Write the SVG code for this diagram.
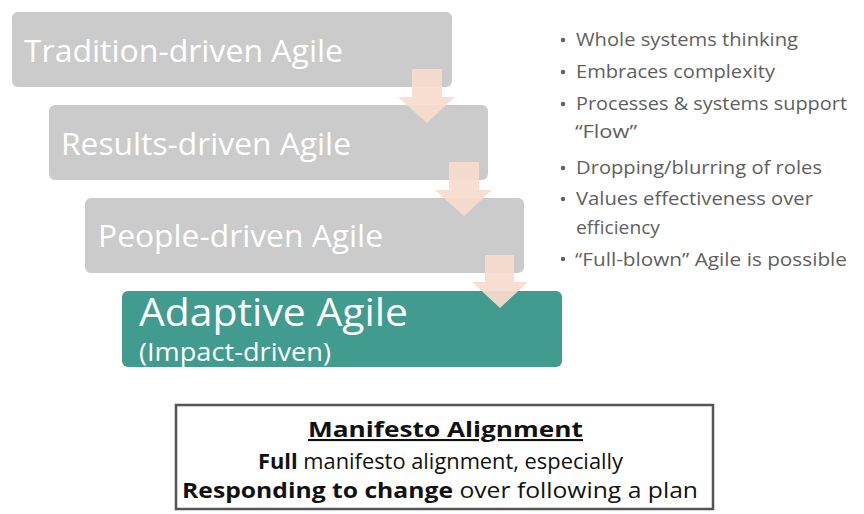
<svg xmlns="http://www.w3.org/2000/svg" width="864" height="514" viewBox="0 0 864 514">
<style>
.box{fill:#cbcbcb}
.teal{fill:#419b8f}
.lbl{font-family:"Open Sans",Lato,sans-serif;fill:#ffffff}
.big{font-size:31.5px}
.bul{font-family:"Open Sans",Lato,sans-serif;font-size:19px;fill:#5f5f5f}
.dot{fill:#5f5f5f}
.arr{fill:#f8dccd;fill-opacity:0.92}
.man{font-family:"Open Sans",Lato,sans-serif;font-size:21px;fill:#111}
</style>
<rect width="864" height="514" fill="#ffffff"/>
<g id="n1"><rect class="box" x="12" y="12" width="440" height="75" rx="6"/><text class="lbl big" x="24" y="62" textLength="319" lengthAdjust="spacingAndGlyphs">Tradition-driven Agile</text></g>
<g id="n2"><rect class="box" x="49" y="105" width="439" height="75" rx="6"/><text class="lbl big" x="61" y="155" textLength="290" lengthAdjust="spacingAndGlyphs">Results-driven Agile</text></g>
<g id="n3"><rect class="box" x="85" y="198" width="439" height="75" rx="6"/><text class="lbl big" x="98" y="247" textLength="285" lengthAdjust="spacingAndGlyphs">People-driven Agile</text></g>
<g id="n4"><rect class="teal" x="122" y="291" width="440" height="76" rx="6"/><text class="lbl" x="139" y="326" font-size="38" textLength="269" lengthAdjust="spacingAndGlyphs">Adaptive Agile</text><text class="lbl" x="139" y="361" font-size="25" textLength="192" lengthAdjust="spacingAndGlyphs">(Impact-driven)</text></g>
<g id="connectors">
<path class="arr" d="M412 69H442V97H455L427 123L398 97H412Z"/>
<path class="arr" d="M449 162H479V190H492L464 216L435 190H449Z"/>
<path class="arr" d="M485 255H514V282H528L500 308L472 282H485Z"/>
</g>
<g id="bullets">
<circle class="dot" cx="563" cy="40" r="2.2"/><text class="bul" x="576" y="46" textLength="222" lengthAdjust="spacingAndGlyphs">Whole systems thinking</text>
<circle class="dot" cx="563" cy="72" r="2.2"/><text class="bul" x="576" y="78" textLength="199" lengthAdjust="spacingAndGlyphs">Embraces complexity</text>
<circle class="dot" cx="563" cy="104" r="2.2"/><text class="bul" x="576" y="110" textLength="271" lengthAdjust="spacingAndGlyphs">Processes &amp; systems support</text>
<text class="bul" x="575" y="138" textLength="62" lengthAdjust="spacingAndGlyphs">“Flow”</text>
<circle class="dot" cx="563" cy="168" r="2.2"/><text class="bul" x="576" y="174" textLength="246" lengthAdjust="spacingAndGlyphs">Dropping/blurring of roles</text>
<circle class="dot" cx="563" cy="199" r="2.2"/><text class="bul" x="576" y="205" textLength="237" lengthAdjust="spacingAndGlyphs">Values effectiveness over</text>
<text class="bul" x="576" y="234" textLength="84" lengthAdjust="spacingAndGlyphs">efficiency</text>
<circle class="dot" cx="563" cy="259" r="2.2"/><text class="bul" x="575" y="266" textLength="272" lengthAdjust="spacingAndGlyphs">“Full-blown” Agile is possible</text>
</g>
<g id="manifesto">
<rect x="176" y="405" width="537" height="104" fill="#ffffff" stroke="#555555" stroke-width="2.5"/>
<text class="man" x="308" y="437" font-weight="bold" text-decoration="underline" textLength="275" lengthAdjust="spacingAndGlyphs" font-size="23">Manifesto Alignment</text>
<text class="man" x="258" y="469" textLength="365" lengthAdjust="spacingAndGlyphs"><tspan font-weight="bold">Full</tspan> manifesto alignment, especially</text>
<text class="man" x="182" y="498" textLength="516" lengthAdjust="spacingAndGlyphs"><tspan font-weight="bold">Responding to change</tspan> over following a plan</text>
</g>
</svg>
